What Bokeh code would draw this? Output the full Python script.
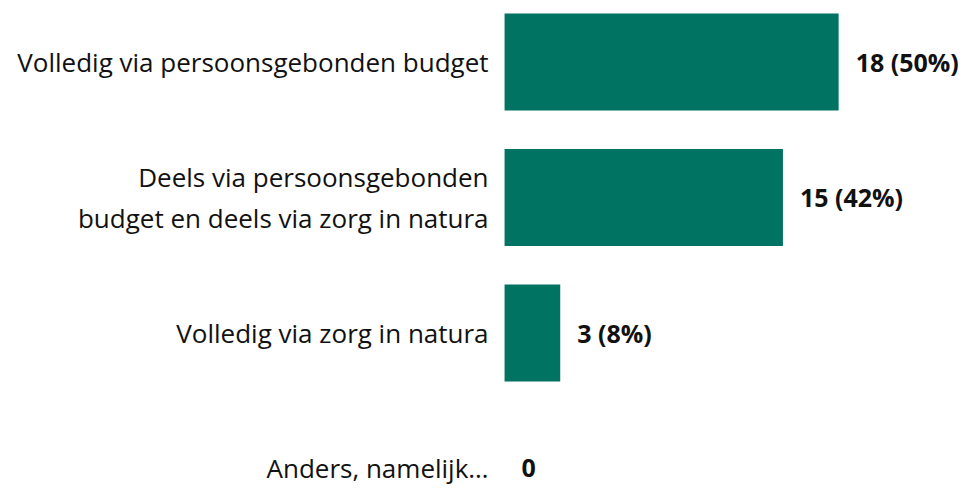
from bokeh.plotting import figure
from bokeh.models import ColumnDataSource, Range1d
from bokeh.core.properties import value
from bokeh.embed import file_html
from bokeh.resources import INLINE

categories = [
    "Volledig via persoonsgebonden budget",
    "Deels via persoonsgebonden\nbudget en deels via zorg in natura",
    "Volledig via zorg in natura",
    "Anders, namelijk\u2026",
]
counts = [18, 15, 3, 0]
labels = ["18 (50%)", "15 (42%)", "3 (8%)", "0"]

n = len(categories)
ypos = [n - 1 - i for i in range(n)]  # top to bottom

src = ColumnDataSource(dict(cat=categories, y=ypos, v=counts, lab=labels,
                            zero=[0] * n))

p = figure(width=966, height=488, output_backend="svg", toolbar_location=None,
           x_range=Range1d(-27.16, 24.89), y_range=Range1d(-0.148, 3.454),
           min_border=0)
p.axis.visible = False
p.grid.visible = False
p.outline_line_color = None
p.background_fill_color = "white"

p.hbar(y="y", left=0, right="v", height=0.716, source=src,
       fill_color="#007363", line_color=None)

p.text(x="zero", y="y", text="cat", source=src, x_offset=-16,
       text_align="right", text_baseline="middle",
       text_font=value("Open Sans"), text_font_size="26px",
       text_color="#111111", text_line_height=1.12)

p.text(x="v", y="y", text="lab", source=src, x_offset=17,
       text_align="left", text_baseline="middle",
       text_font=value("Open Sans"), text_font_size="25px",
       text_font_style="bold", text_color="#111111")

open("out.html", "w").write(file_html(p, INLINE))
